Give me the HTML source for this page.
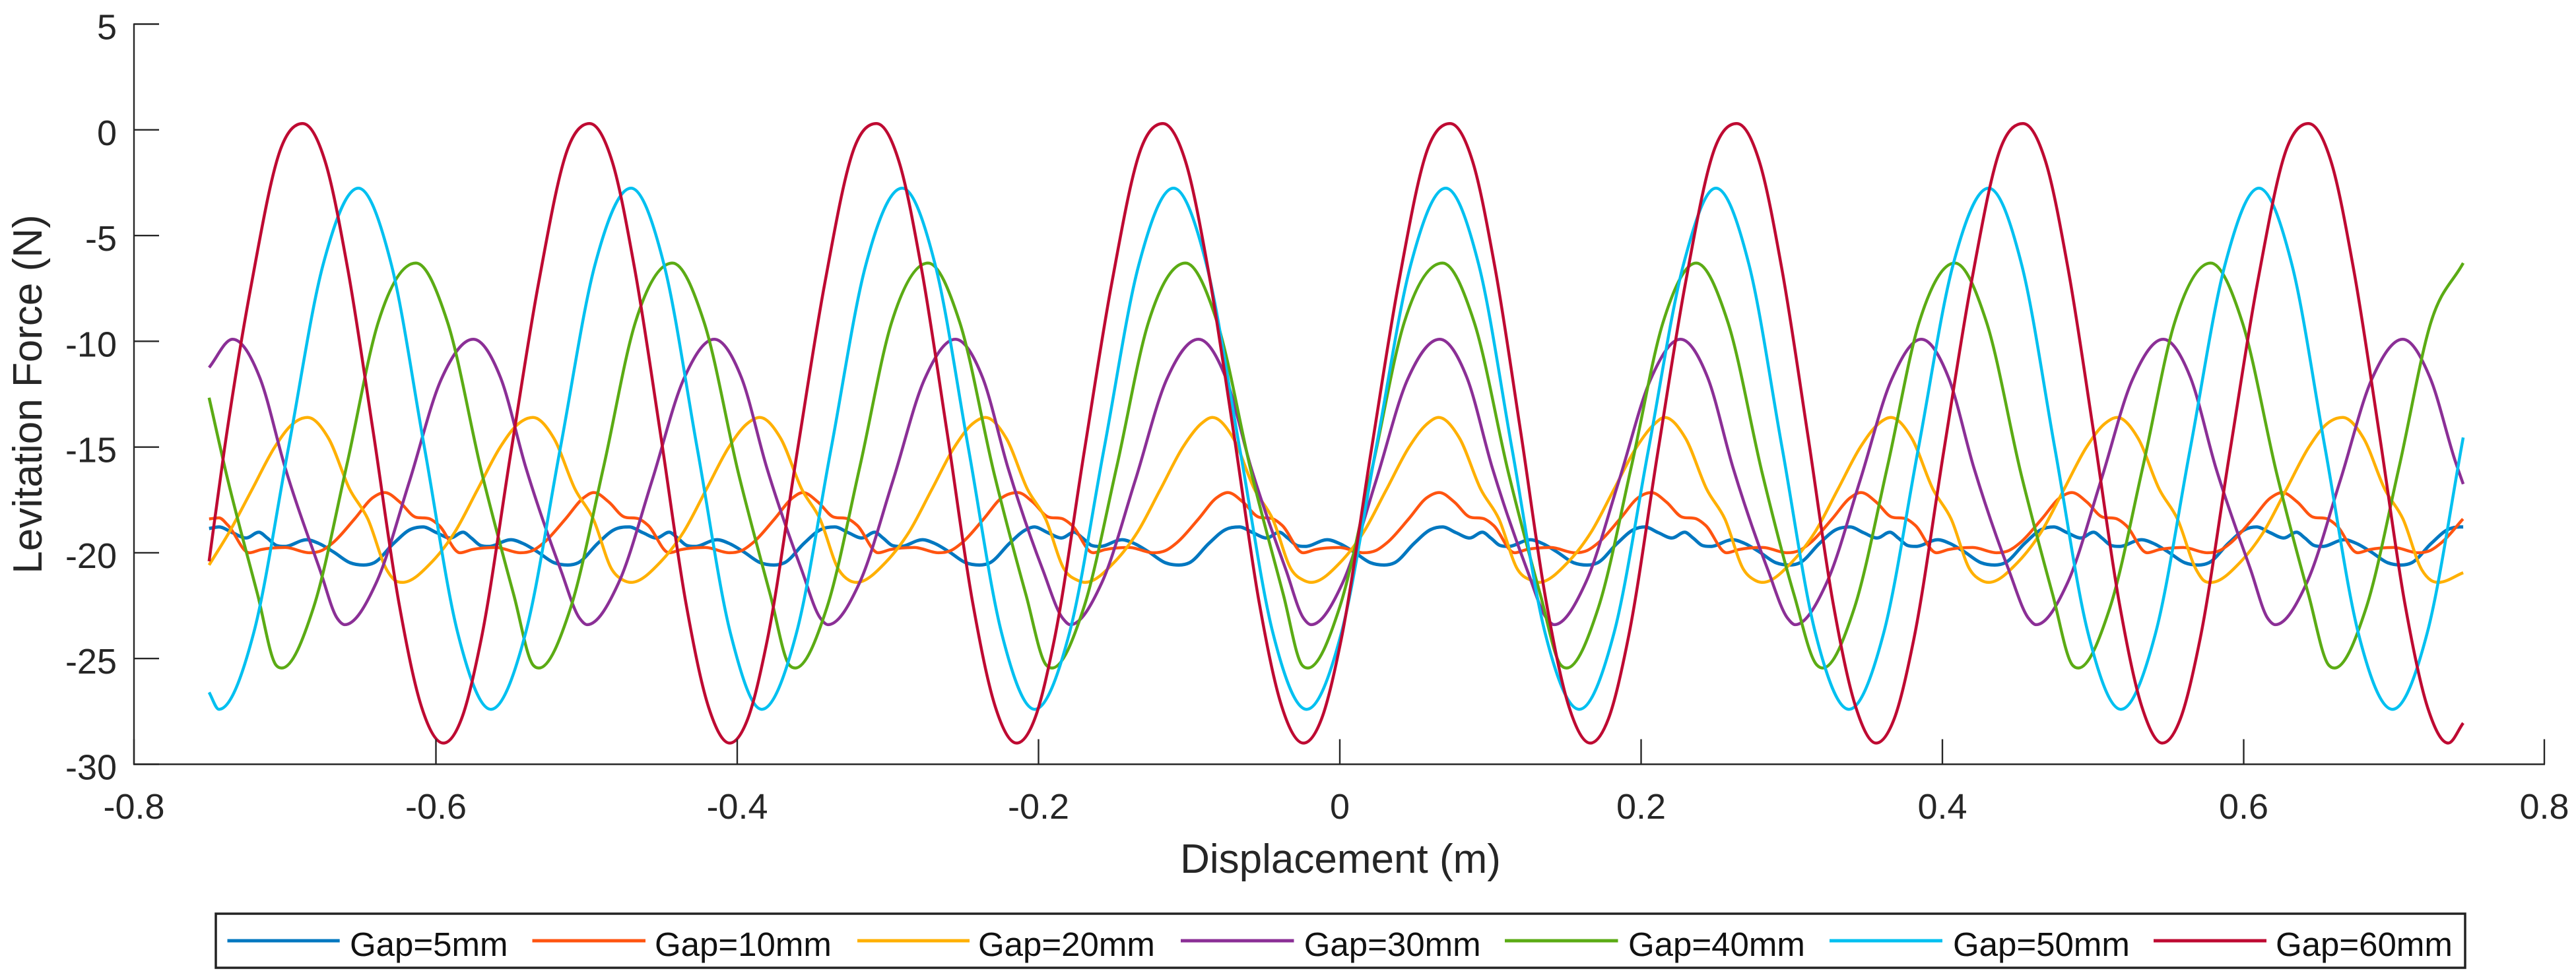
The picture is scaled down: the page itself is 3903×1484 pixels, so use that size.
<!DOCTYPE html>
<html lang="en">
<head>
<meta charset="utf-8">
<title>Levitation Force vs Displacement</title>
<style>
html,body{margin:0;padding:0;background:#fff;}
#chart{display:block;width:3903px;height:1484px;font-family:"Liberation Sans",Arial,sans-serif;fill:#262626;}
</style>
</head>
<body>
<svg id="chart" xmlns="http://www.w3.org/2000/svg" width="3903" height="1484" viewBox="0 0 3903 1484">
  <rect x="0" y="0" width="3903" height="1484" fill="#fff"/>
  <g id="series-layer"></g>
  <g id="axes-layer"></g>
  <text x="2031" y="1323" font-size="62" text-anchor="middle">Displacement (m)</text>
  <text transform="translate(63,597.5) rotate(-90)" font-size="62" text-anchor="middle">Levitation Force (N)</text>
  <g>
    <rect x="327" y="1385" width="3408" height="82" fill="#fff" stroke="#222" stroke-width="3.5"/>
    <g>
      <line x1="344.5" y1="1426" x2="514.7" y2="1426" stroke="#0077c0" stroke-width="5"/>
      <text x="530" y="1449" font-size="51" fill="#111">Gap=5mm</text>
    </g>
    <g>
      <line x1="806.5" y1="1426" x2="978" y2="1426" stroke="#ff5410" stroke-width="5"/>
      <text x="992" y="1449" font-size="51" fill="#111">Gap=10mm</text>
    </g>
    <g>
      <line x1="1299" y1="1426" x2="1469" y2="1426" stroke="#ffb000" stroke-width="5"/>
      <text x="1482" y="1449" font-size="51" fill="#111">Gap=20mm</text>
    </g>
    <g>
      <line x1="1789" y1="1426" x2="1960.5" y2="1426" stroke="#8b2f96" stroke-width="5"/>
      <text x="1975.7" y="1449" font-size="51" fill="#111">Gap=30mm</text>
    </g>
    <g>
      <line x1="2280" y1="1426" x2="2451.5" y2="1426" stroke="#5bab14" stroke-width="5"/>
      <text x="2467" y="1449" font-size="51" fill="#111">Gap=40mm</text>
    </g>
    <g>
      <line x1="2772" y1="1426" x2="2943" y2="1426" stroke="#00c0f0" stroke-width="5"/>
      <text x="2959" y="1449" font-size="51" fill="#111">Gap=50mm</text>
    </g>
    <g>
      <line x1="3263" y1="1426" x2="3434" y2="1426" stroke="#be0a32" stroke-width="5"/>
      <text x="3448" y="1449" font-size="51" fill="#111">Gap=60mm</text>
    </g>
  </g>
</svg>
<script>
const xTickValues=[-0.8,-0.6,-0.4,-0.2,0,0.2,0.4,0.6,0.8];
const xTickLabels=["-0.8","-0.6","-0.4","-0.2","0","0.2","0.4","0.6","0.8"];
const yTickValues=[5,0,-5,-10,-15,-20,-25,-30];
const yTickLabels=["5","0","-5","-10","-15","-20","-25","-30"];
const seriesNames=["gap-5mm","gap-10mm","gap-20mm","gap-30mm","gap-40mm","gap-50mm","gap-60mm"];

const gap5X=[-.7506,-.744,-.735,-.726,-.7176,-.712,-.706,-.7005,-.6857,-.678,-.668,-.657,-.648,-.641,-.628,-.617,
-.6085,-.5995,-.5905,-.5821,-.5765,-.5705,-.565,-.5502,-.5425,-.5325,-.5215,-.5125,-.5055,-.4925,-.4815,
-.4716,-.4626,-.4536,-.4452,-.4396,-.4336,-.4281,-.4133,-.4056,-.3956,-.3846,-.3756,-.3686,-.3556,-.3446,
-.3352,-.3262,-.3172,-.3088,-.3032,-.2972,-.2917,-.2769,-.2692,-.2592,-.2482,-.2392,-.2322,-.2192,-.2082,
-.2028,-.1938,-.1848,-.1764,-.1708,-.1648,-.1593,-.1445,-.1368,-.1268,-.1158,-.1068,-.0998,-.0868,-.0758,
-.0666,-.0576,-.0486,-.0402,-.0346,-.0286,-.0231,-.0083,-.0006,.0094,.0204,.0294,.0364,.0494,.0604,
.0682,.0772,.0862,.0946,.1002,.1062,.1117,.1265,.1342,.1442,.1552,.1642,.1712,.1842,.1952,
.2025,.2115,.2205,.2289,.2345,.2405,.246,.2608,.2685,.2785,.2895,.2985,.3055,.3185,.3295,
.3387,.3477,.3567,.3651,.3707,.3767,.3822,.397,.4047,.4147,.4257,.4347,.4417,.4547,.4657,
.4739,.4829,.4919,.5003,.5059,.5119,.5174,.5322,.5399,.5499,.5609,.5699,.5769,.5899,.6009,
.6086,.6176,.6266,.635,.6406,.6466,.6521,.6669,.6746,.6846,.6956,.7046,.7116,.7246,.7356,
.7436,.7457];
const gap5Y=[-18.85,-18.78,-19.05,-19.3,-19.03,-19.3,-19.65,-19.7,-19.38,-19.55,-19.96,-20.47,-20.58,-20.47,-19.55,-18.9,
-18.78,-19.05,-19.3,-19.03,-19.3,-19.65,-19.7,-19.38,-19.55,-19.96,-20.47,-20.58,-20.47,-19.55,-18.9,
-18.78,-19.05,-19.3,-19.03,-19.3,-19.65,-19.7,-19.38,-19.55,-19.96,-20.47,-20.58,-20.47,-19.55,-18.9,
-18.78,-19.05,-19.3,-19.03,-19.3,-19.65,-19.7,-19.38,-19.55,-19.96,-20.47,-20.58,-20.47,-19.55,-18.9,
-18.78,-19.05,-19.3,-19.03,-19.3,-19.65,-19.7,-19.38,-19.55,-19.96,-20.47,-20.58,-20.47,-19.55,-18.9,
-18.78,-19.05,-19.3,-19.03,-19.3,-19.65,-19.7,-19.38,-19.55,-19.96,-20.47,-20.58,-20.47,-19.55,-18.9,
-18.78,-19.05,-19.3,-19.03,-19.3,-19.65,-19.7,-19.38,-19.55,-19.96,-20.47,-20.58,-20.47,-19.55,-18.9,
-18.78,-19.05,-19.3,-19.03,-19.3,-19.65,-19.7,-19.38,-19.55,-19.96,-20.47,-20.58,-20.47,-19.55,-18.9,
-18.78,-19.05,-19.3,-19.03,-19.3,-19.65,-19.7,-19.38,-19.55,-19.96,-20.47,-20.58,-20.47,-19.55,-18.9,
-18.78,-19.05,-19.3,-19.03,-19.3,-19.65,-19.7,-19.38,-19.55,-19.96,-20.47,-20.58,-20.47,-19.55,-18.9,
-18.78,-19.05,-19.3,-19.03,-19.3,-19.65,-19.7,-19.38,-19.55,-19.96,-20.47,-20.58,-20.47,-19.55,-18.9,
-18.78,-18.78];

const gap10X=[-.7506,-.744,-.738,-.724,-.716,-.7,-.684,-.676,-.668,-.654,-.642,
-.634,-.624,-.614,-.604,-.598,-.584,-.576,-.56,-.544,-.536,-.528,-.514,-.502,
-.4952,-.4852,-.4752,-.4652,-.4592,-.4452,-.4372,-.4212,-.4052,-.3972,-.3892,-.3752,-.3632,
-.3564,-.3464,-.3364,-.3264,-.3204,-.3064,-.2984,-.2824,-.2664,-.2584,-.2504,-.2364,-.2244,
-.2138,-.2038,-.1938,-.1838,-.1778,-.1638,-.1558,-.1398,-.1238,-.1158,-.1078,-.0938,-.0818,
-.0743,-.0643,-.0543,-.0443,-.0383,-.0243,-.0163,-.0003,.0157,.0237,.0317,.0457,.0577,
.066,.076,.086,.096,.102,.116,.124,.14,.156,.164,.172,.186,.198,
.2068,.2168,.2268,.2368,.2428,.2568,.2648,.2808,.2968,.3048,.3128,.3268,.3388,
.346,.356,.366,.376,.382,.396,.404,.42,.436,.444,.452,.466,.478,
.4859,.4959,.5059,.5159,.5219,.5359,.5439,.5599,.5759,.5839,.5919,.6059,.6179,
.6256,.6356,.6456,.6556,.6616,.6756,.6836,.6996,.7156,.7236,.7316,.7456];
const gap10Y=[-18.4,-18.35,-18.7,-20,-19.85,-19.75,-20,-19.9,-19.5,-18.4,-17.4,
-17.15,-17.6,-18.3,-18.4,-18.7,-20,-19.85,-19.75,-20,-19.9,-19.5,-18.4,-17.4,
-17.15,-17.6,-18.3,-18.4,-18.7,-20,-19.85,-19.75,-20,-19.9,-19.5,-18.4,-17.4,
-17.15,-17.6,-18.3,-18.4,-18.7,-20,-19.85,-19.75,-20,-19.9,-19.5,-18.4,-17.4,
-17.15,-17.6,-18.3,-18.4,-18.7,-20,-19.85,-19.75,-20,-19.9,-19.5,-18.4,-17.4,
-17.15,-17.6,-18.3,-18.4,-18.7,-20,-19.85,-19.75,-20,-19.9,-19.5,-18.4,-17.4,
-17.15,-17.6,-18.3,-18.4,-18.7,-20,-19.85,-19.75,-20,-19.9,-19.5,-18.4,-17.4,
-17.15,-17.6,-18.3,-18.4,-18.7,-20,-19.85,-19.75,-20,-19.9,-19.5,-18.4,-17.4,
-17.15,-17.6,-18.3,-18.4,-18.7,-20,-19.85,-19.75,-20,-19.9,-19.5,-18.4,-17.4,
-17.15,-17.6,-18.3,-18.4,-18.7,-20,-19.85,-19.75,-20,-19.9,-19.5,-18.4,-17.4,
-17.15,-17.6,-18.3,-18.4,-18.7,-20,-19.85,-19.75,-20,-19.9,-19.5,-18.4];

const gap20X=[-.7506,-.737,-.722,-.707,-.695,
-.6852,-.6712,-.6572,-.6452,-.6327,-.6273,-.6223,-.6023,-.5873,-.5723,-.5573,-.5453,
-.5356,-.5216,-.5076,-.4956,-.4831,-.4755,-.4705,-.4505,-.4355,-.4205,-.4055,-.3935,
-.3851,-.3711,-.3571,-.3451,-.3326,-.3258,-.3208,-.3008,-.2858,-.2708,-.2558,-.2438,
-.2353,-.2213,-.2073,-.1953,-.1828,-.1741,-.1691,-.1491,-.1341,-.1191,-.1041,-.0921,
-.0846,-.0706,-.0566,-.0446,-.0321,-.024,-.019,.001,.016,.031,.046,.058,
.0656,.0796,.0936,.1056,.1181,.127,.132,.152,.167,.182,.197,.209,
.2156,.2296,.2436,.2556,.2681,.2756,.2806,.3006,.3156,.3306,.3456,.3576,
.3658,.3798,.3938,.4058,.4183,.4257,.4307,.4507,.4657,.4807,.4957,.5077,
.516,.53,.544,.556,.5685,.5733,.5783,.5983,.6133,.6283,.6433,.6553,
.6657,.6797,.6937,.7057,.7182,.7243,.7293,.7457];
const gap20Y=[-20.58,-19,-17,-15,-13.9,
-13.6,-14.6,-17,-18.4,-20.8,-21.3,-21.4,-20.4,-19,-17,-15,-13.9,
-13.6,-14.6,-17,-18.4,-20.8,-21.3,-21.4,-20.4,-19,-17,-15,-13.9,
-13.6,-14.6,-17,-18.4,-20.8,-21.3,-21.4,-20.4,-19,-17,-15,-13.9,
-13.6,-14.6,-17,-18.4,-20.8,-21.3,-21.4,-20.4,-19,-17,-15,-13.9,
-13.6,-14.6,-17,-18.4,-20.8,-21.3,-21.4,-20.4,-19,-17,-15,-13.9,
-13.6,-14.6,-17,-18.4,-20.8,-21.3,-21.4,-20.4,-19,-17,-15,-13.9,
-13.6,-14.6,-17,-18.4,-20.8,-21.3,-21.4,-20.4,-19,-17,-15,-13.9,
-13.6,-14.6,-17,-18.4,-20.8,-21.3,-21.4,-20.4,-19,-17,-15,-13.9,
-13.6,-14.6,-17,-18.4,-20.8,-21.3,-21.4,-20.4,-19,-17,-15,-13.9,
-13.6,-14.6,-17,-18.4,-20.8,-21.3,-21.4,-20.94];

const gap30X=[-.7506,
-.735,-.717,-.7,-.677,-.6655,-.6605,-.6395,-.6175,-.5965,
-.5752,-.5572,-.5402,-.5172,-.5046,-.4996,-.4786,-.4566,-.4356,
-.4153,-.3973,-.3803,-.3573,-.3447,-.3397,-.3187,-.2967,-.2757,
-.2552,-.2372,-.2202,-.1972,-.1839,-.1789,-.1579,-.1359,-.1149,
-.0938,-.0758,-.0588,-.0358,-.024,-.019,.002,.024,.045,
.0663,.0843,.1013,.1243,.1373,.1423,.1633,.1853,.2063,
.2261,.2441,.2611,.2841,.2973,.3023,.3233,.3453,.3663,
.386,.404,.421,.444,.4572,.4622,.4832,.5052,.5262,
.5466,.5646,.5816,.6046,.616,.621,.642,.664,.685,
.7056,.7236,.7406,.7457];
const gap30Y=[-11.24,
-9.9,-11.7,-16,-20.8,-23.1,-23.4,-21.4,-16.6,-11.8,
-9.9,-11.7,-16,-20.8,-23.1,-23.4,-21.4,-16.6,-11.8,
-9.9,-11.7,-16,-20.8,-23.1,-23.4,-21.4,-16.6,-11.8,
-9.9,-11.7,-16,-20.8,-23.1,-23.4,-21.4,-16.6,-11.8,
-9.9,-11.7,-16,-20.8,-23.1,-23.4,-21.4,-16.6,-11.8,
-9.9,-11.7,-16,-20.8,-23.1,-23.4,-21.4,-16.6,-11.8,
-9.9,-11.7,-16,-20.8,-23.1,-23.4,-21.4,-16.6,-11.8,
-9.9,-11.7,-16,-20.8,-23.1,-23.4,-21.4,-16.6,-11.8,
-9.9,-11.7,-16,-20.8,-23.1,-23.4,-21.4,-16.6,-11.8,
-9.9,-11.7,-15.7,-16.75];

const gap40X=[-.7506,-.739,-.7183,-.7063,-.7023,-.6813,-.6593,-.6383,
-.6133,-.5923,-.5693,-.5483,-.5356,-.5316,-.5106,-.4886,-.4676,
-.443,-.422,-.399,-.378,-.3655,-.3615,-.3405,-.3185,-.2975,
-.2733,-.2523,-.2293,-.2083,-.195,-.191,-.17,-.148,-.127,
-.1024,-.0814,-.0584,-.0374,-.0252,-.0212,-.0002,.0218,.0428,
.0682,.0892,.1122,.1332,.1466,.1506,.1716,.1936,.2146,
.2366,.2576,.2806,.3016,.3166,.3206,.3416,.3636,.3846,
.4083,.4293,.4523,.4733,.4862,.4902,.5112,.5332,.5542,
.5781,.5991,.6221,.6431,.6563,.6603,.6813,.7033,.7243,
.7457];
const gap40Y=[-12.67,-16.3,-22,-25.3,-25.45,-22.6,-15.9,-9.1,
-6.3,-9.1,-16.3,-22,-25.3,-25.45,-22.6,-15.9,-9.1,
-6.3,-9.1,-16.3,-22,-25.3,-25.45,-22.6,-15.9,-9.1,
-6.3,-9.1,-16.3,-22,-25.3,-25.45,-22.6,-15.9,-9.1,
-6.3,-9.1,-16.3,-22,-25.3,-25.45,-22.6,-15.9,-9.1,
-6.3,-9.1,-16.3,-22,-25.3,-25.45,-22.6,-15.9,-9.1,
-6.3,-9.1,-16.3,-22,-25.3,-25.45,-22.6,-15.9,-9.1,
-6.3,-9.1,-16.3,-22,-25.3,-25.45,-22.6,-15.9,-9.1,
-6.3,-9.1,-16.3,-22,-25.3,-25.45,-22.6,-15.9,-9.1,
-6.3];

const gap50X=[-.7506,
-.744,-.721,-.698,-.675,
-.6515,-.6295,-.6075,-.5855,
-.5635,-.5405,-.5175,-.4945,
-.4705,-.4485,-.4265,-.4045,
-.3837,-.3607,-.3377,-.3147,
-.2905,-.2685,-.2465,-.2245,
-.2025,-.1795,-.1565,-.1335,
-.1104,-.0884,-.0664,-.0444,
-.022,.001,.024,.047,
.0703,.0923,.1143,.1363,
.159,.182,.205,.228,
.2497,.2717,.2937,.3157,
.338,.361,.384,.407,
.4307,.4527,.4747,.4967,
.5185,.5415,.5645,.5875,
.6101,.6321,.6541,.6761,
.6988,.7218,.7457];
const gap50Y=[-26.6,
-27.4,-23.8,-15.08,-6.4,
-2.76,-6.4,-15.08,-23.8,
-27.4,-23.8,-15.08,-6.4,
-2.76,-6.4,-15.08,-23.8,
-27.4,-23.8,-15.08,-6.4,
-2.76,-6.4,-15.08,-23.8,
-27.4,-23.8,-15.08,-6.4,
-2.76,-6.4,-15.08,-23.8,
-27.4,-23.8,-15.08,-6.4,
-2.76,-6.4,-15.08,-23.8,
-27.4,-23.8,-15.08,-6.4,
-2.76,-6.4,-15.08,-23.8,
-27.4,-23.8,-15.08,-6.4,
-2.76,-6.4,-15.08,-23.8,
-27.4,-23.8,-15.08,-6.4,
-2.76,-6.4,-15.08,-23.8,
-27.4,-23.8,-14.55];

const gap60X=[-.7506,-.7405,-.7225,-.7025,
-.6885,-.6735,-.6585,-.6415,-.6245,-.6095,-.595,-.583,-.57,-.55,-.532,-.512,
-.498,-.483,-.468,-.451,-.434,-.419,-.405,-.393,-.38,-.36,-.342,-.322,
-.3076,-.2926,-.2776,-.2606,-.2436,-.2286,-.2145,-.2025,-.1895,-.1695,-.1515,-.1315,
-.1174,-.1024,-.0874,-.0704,-.0534,-.0384,-.0241,-.0121,.0009,.0209,.0389,.0589,
.0732,.0882,.1032,.1202,.1372,.1522,.1663,.1783,.1913,.2113,.2293,.2493,
.2635,.2785,.2935,.3105,.3275,.3425,.356,.368,.381,.401,.419,.439,
.4535,.4685,.4835,.5005,.5175,.5325,.546,.558,.571,.591,.609,.629,
.643,.658,.673,.69,.707,.722,.7358,.7457];
const gap60Y=[-20.4,-15.15,-7.3,-.8,
.3,-1.5,-6.6,-14.35,-22.4,-27.3,-29,-27.85,-24.1,-15.15,-7.3,-.8,
.3,-1.5,-6.6,-14.35,-22.4,-27.3,-29,-27.85,-24.1,-15.15,-7.3,-.8,
.3,-1.5,-6.6,-14.35,-22.4,-27.3,-29,-27.85,-24.1,-15.15,-7.3,-.8,
.3,-1.5,-6.6,-14.35,-22.4,-27.3,-29,-27.85,-24.1,-15.15,-7.3,-.8,
.3,-1.5,-6.6,-14.35,-22.4,-27.3,-29,-27.85,-24.1,-15.15,-7.3,-.8,
.3,-1.5,-6.6,-14.35,-22.4,-27.3,-29,-27.85,-24.1,-15.15,-7.3,-.8,
.3,-1.5,-6.6,-14.35,-22.4,-27.3,-29,-27.85,-24.1,-15.15,-7.3,-.8,
.3,-1.5,-6.6,-14.35,-22.4,-27.3,-29,-28.05];

const SVGNS="http://www.w3.org/2000/svg";
const plotLeft=203,plotRight=3855,plotTop=36.5,plotBottom=1158.5;
function xScale(v){return 2030+v*2282.5;}
function yScale(v){return plotTop+(5-v)*(plotBottom-plotTop)/35;}

function curvePath(xs,ys){
  const n=Math.min(xs.length,ys.length);
  const px=[],py=[];
  for(let i=0;i<n;i++){px.push(xScale(xs[i]));py.push(yScale(ys[i]));}
  const sec=[],m=new Array(n).fill(0);
  for(let i=0;i<n-1;i++){sec.push((py[i+1]-py[i])/(px[i+1]-px[i]));}
  m[0]=sec[0];m[n-1]=sec[n-2];
  for(let i=1;i<n-1;i++){
    if(sec[i-1]*sec[i]<=0){m[i]=0;continue;}
    const h0=px[i]-px[i-1],h1=px[i+1]-px[i];
    const p=(sec[i-1]*h1+sec[i]*h0)/(h0+h1);
    const limit=3*Math.min(Math.abs(sec[i-1]),Math.abs(sec[i]));
    m[i]=Math.sign(p)*Math.min(Math.abs(p),limit);
  }
  let d="M"+px[0].toFixed(1)+" "+py[0].toFixed(1);
  for(let i=0;i<n-1;i++){
    const h=(px[i+1]-px[i])/3;
    d+="C"+(px[i]+h).toFixed(1)+" "+(py[i]+m[i]*h).toFixed(1)+" "+(px[i+1]-h).toFixed(1)+" "+(py[i+1]-m[i+1]*h).toFixed(1)+" "+px[i+1].toFixed(1)+" "+py[i+1].toFixed(1);
  }
  return d;
}

const seriesXs=[gap5X,gap10X,gap20X,gap30X,gap40X,gap50X,gap60X];
const seriesYs=[gap5Y,gap10Y,gap20Y,gap30Y,gap40Y,gap50Y,gap60Y];
const seriesColors=["#0077c0","#ff5410","#ffb000","#8b2f96","#5bab14","#00c0f0","#be0a32"];
const seriesWidths=[5,4.5,4.5,4.5,4.5,4.5,4.5];

const seriesLayer=document.getElementById("series-layer");
seriesNames.forEach(function(name,i){
  const path=document.createElementNS(SVGNS,"path");
  path.setAttribute("d",curvePath(seriesXs[i],seriesYs[i]));
  path.setAttribute("fill","none");
  path.setAttribute("stroke",seriesColors[i]);
  path.setAttribute("stroke-width",seriesWidths[i]);
  path.setAttribute("stroke-linejoin","round");
  
  
  seriesLayer.appendChild(path);
});

const axesLayer=document.getElementById("axes-layer");
function axisLine(x1,y1,x2,y2,name){
  const l=document.createElementNS(SVGNS,"line");
  l.setAttribute("x1",x1);l.setAttribute("y1",y1);l.setAttribute("x2",x2);l.setAttribute("y2",y2);
  l.setAttribute("stroke","#262626");l.setAttribute("stroke-width","2.4");
  
  
  axesLayer.appendChild(l);
}
axisLine(plotLeft,plotTop-1,plotLeft,plotBottom+1,"y-axis-line");
axisLine(plotLeft-1,plotBottom,plotRight+1,plotBottom,"x-axis-line");

xTickValues.forEach(function(v,i){
  const x=i===0?plotLeft:(i===xTickValues.length-1?plotRight:xScale(v));
  axisLine(x,plotBottom,x,plotBottom-38,"x-tick");
  const t=document.createElementNS(SVGNS,"text");
  t.setAttribute("x",x);
  t.setAttribute("y",1241);
  t.setAttribute("font-size","54");
  t.setAttribute("text-anchor","middle");
  
  
  t.textContent=xTickLabels[i];
  axesLayer.appendChild(t);
});
yTickValues.forEach(function(v,i){
  const y=yScale(v);
  axisLine(plotLeft,y,plotLeft+38,y,"y-tick");
  const t=document.createElementNS(SVGNS,"text");
  t.setAttribute("x",177);
  t.setAttribute("y",y+23);
  t.setAttribute("font-size","54");
  t.setAttribute("text-anchor","end");
  
  
  t.textContent=yTickLabels[i];
  axesLayer.appendChild(t);
});
</script>
</body>
</html>
